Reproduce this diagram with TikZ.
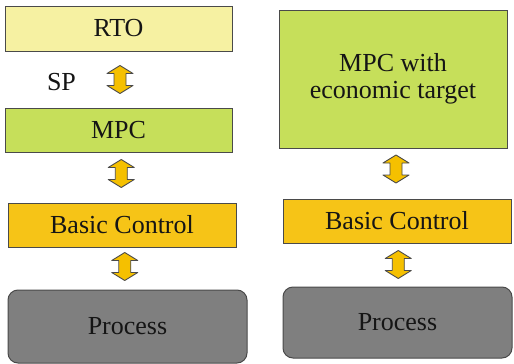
\documentclass[tikz,border=0pt]{standalone}
\usepackage{fontspec}
\setmainfont{Liberation Serif}
\usetikzlibrary{calc}
\definecolor{rtofill}{HTML}{F6F1A2}
\definecolor{mpcfill}{HTML}{C6DF5A}
\definecolor{basicfill}{HTML}{F6C417}
\definecolor{procfill}{HTML}{7F7F7F}
\definecolor{edgecol}{HTML}{4A4A4A}
\definecolor{arrowfill}{HTML}{F5C000}
\definecolor{txtcol}{HTML}{151515}
\tikzset{
  labelfont/.style={font=\fontsize{26}{27}\selectfont},
  blockbox/.style={draw=edgecol, line width=1pt, text=txtcol, inner sep=0pt,
    labelfont, align=center},
  procbox/.style={blockbox, fill=procfill, rounded corners=10pt},
  % vertical two-headed block arrow, drawn about a centre point
  updown/.pic={
    \draw[draw=edgecol, fill=arrowfill, line width=0.9pt, line join=round]
      (0,-14) -- (13,-6) -- (6,-6) -- (6,6) -- (13,6) -- (0,14)
      -- (-13,6) -- (-6,6) -- (-6,-6) -- (-13,-6) -- cycle;
  }
}
\begin{document}
\begin{tikzpicture}[x=1pt, y=-1pt]
\useasboundingbox (0,0) rectangle (514,364);

% left column: RTO over MPC over basic control
\node[blockbox, fill=rtofill, minimum width=227pt, minimum height=45pt] (rto) at (118.5,28.5) {RTO};
\node[blockbox, fill=mpcfill, minimum width=227pt, minimum height=44pt] (mpcl) at (118.5,130) {MPC};
\node[blockbox, fill=basicfill, minimum width=228pt, minimum height=44pt] (basicl) at (122,225) {Basic Control};
\node[procbox, minimum width=239pt, minimum height=73pt] (procl) at (127.5,326.5) {Process};
\node[text=txtcol, labelfont, inner sep=0pt] (sp) at (61.5,82) {SP};

% right column: economic MPC over basic control
\node[blockbox, fill=mpcfill, minimum width=228pt, minimum height=138pt] (mpcr) at (393,79) {MPC with\\economic target};
\node[blockbox, fill=basicfill, minimum width=228pt, minimum height=44pt] (basicr) at (397,221) {Basic Control};
\node[procbox, minimum width=229pt, minimum height=71pt] (procr) at (397.5,322.5) {Process};

% two-headed links between neighbouring blocks
\path ($(rto.south)!0.5!(mpcl.north)$) ++(1.5,0) pic {updown};
\path ($(mpcl.south)!0.5!(basicl.north)$) ++(1,-4) pic {updown};
\path ($(basicl.south)!0.5!(procl.north)$) ++(0,-2) pic {updown};
\path ($(mpcr.south)!0.5!(basicr.north)$) ++(1,-4.5) pic {updown};
\path ($(basicr.south)!0.5!(procr.north)$) ++(1,-0.5) pic {updown};
\end{tikzpicture}
\end{document}
